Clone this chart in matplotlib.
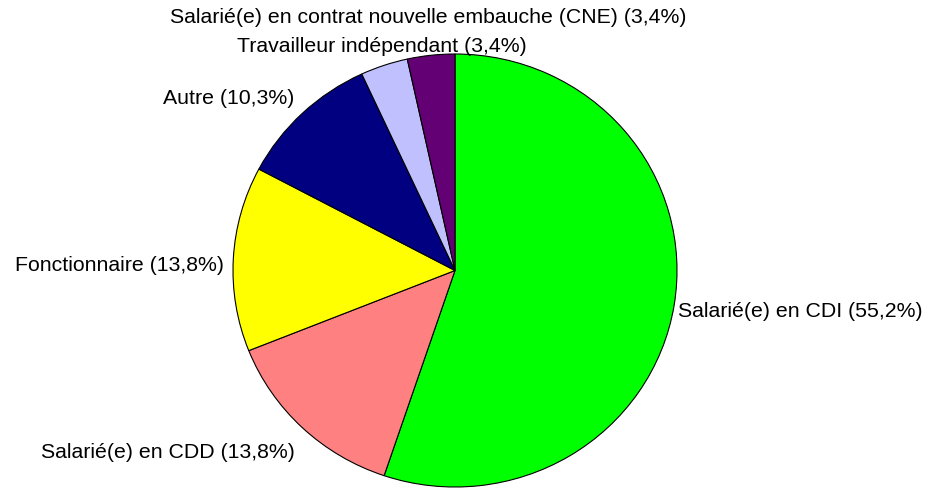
import matplotlib.pyplot as plt

plt.rcParams['font.family'] = ['Liberation Sans', 'DejaVu Sans']

# donnees
categories = ['Salarié(e) en CDI', 'Salarié(e) en CDD', 'Fonctionnaire', 'Autre',
              'Travailleur indépendant', 'Salarié(e) en contrat nouvelle embauche (CNE)']
effectifs = [16, 4, 4, 3, 1, 1]
couleurs = ['#00FF00', '#FF8080', '#FFFF00', '#000080', '#C0C0FF', '#620074']

total = sum(effectifs)
etiquettes = []
for nom, n in zip(categories, effectifs):
    pct = ('%.1f' % (100.0 * n / total)).replace('.', ',')
    etiquettes.append('%s (%s%%)' % (nom, pct))

# position des etiquettes (x, y, alignement)
pos_etiq = [(1.005, -0.187, 'left'), (-0.721, -0.838, 'right'), (-1.041, 0.03, 'right'),
            (-0.722, 0.801, 'right'), (-0.329, 1.037, 'center'), (-0.122, 1.171, 'center')]

fig = plt.figure(figsize=(9.26, 4.89), dpi=100)
ax = fig.add_axes([233 / 926, 1 / 489, 444 / 926, 433 / 489])

wedges, texts = ax.pie(effectifs, labels=etiquettes, colors=couleurs, startangle=90,
                       counterclock=False,
                       wedgeprops={'edgecolor': 'black', 'linewidth': 0.8})
for t, (x, y, ha) in zip(texts, pos_etiq):
    t.set_position((x, y))
    t.set_ha(ha)
    t.set_va('center')
    t.set_fontsize(15.3)
    t.set_clip_on(False)

ax.set_aspect('auto')
ax.set_xlim(-1, 1)
ax.set_ylim(-1, 1)
ax.axis('off')

plt.savefig('out.png', dpi=100)
